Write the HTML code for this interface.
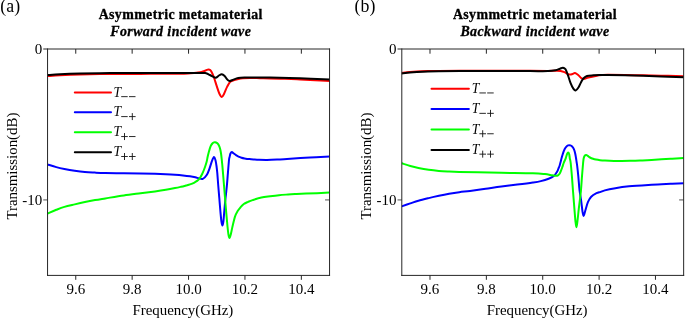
<!DOCTYPE html>
<html><head><meta charset="utf-8"><title>Asymmetric metamaterial transmission</title>
<style>html,body{margin:0;padding:0;background:#fff}body{width:685px;height:318px;overflow:hidden;font-family:"Liberation Serif",serif}svg{display:block;will-change:transform}</style></head>
<body>
<svg width="685" height="318" viewBox="0 0 685 318" font-family="'Liberation Serif', serif" fill="#000">
<rect width="685" height="318" fill="#fff"/>
<clipPath id="c47"><rect x="47.55" y="49.00" width="282.00" height="226.40"/></clipPath>
<g clip-path="url(#c47)" fill="none" stroke-width="2.00" stroke-linejoin="round" stroke-linecap="round">
<path d="M47.50 76.10C49.58 75.95 54.58 75.48 60.00 75.20C65.42 74.92 71.67 74.60 80.00 74.40C88.33 74.20 100.00 74.08 110.00 74.00C120.00 73.92 130.00 73.93 140.00 73.90C150.00 73.87 163.33 73.83 170.00 73.80C176.67 73.77 177.00 73.77 180.00 73.70C183.00 73.63 185.67 73.52 188.00 73.40C190.33 73.28 192.33 73.13 194.00 73.00C195.67 72.87 196.75 72.77 198.00 72.60C199.25 72.43 200.42 72.27 201.50 72.00C202.58 71.73 203.62 71.35 204.50 71.00C205.38 70.65 206.12 70.15 206.80 69.90C207.48 69.65 208.03 69.47 208.60 69.50C209.17 69.53 209.70 69.68 210.20 70.10C210.70 70.52 211.00 70.85 211.60 72.00C212.20 73.15 212.92 74.57 213.80 77.00C214.68 79.43 215.98 83.85 216.90 86.60C217.82 89.35 218.48 91.77 219.30 93.50C220.12 95.23 220.98 97.00 221.80 97.00C222.62 97.00 223.30 95.23 224.20 93.50C225.10 91.77 226.18 88.57 227.20 86.60C228.22 84.63 229.13 82.78 230.30 81.70C231.47 80.62 232.83 80.57 234.20 80.10C235.57 79.63 237.05 79.20 238.50 78.90C239.95 78.60 240.98 78.45 242.90 78.30C244.82 78.15 247.15 78.02 250.00 78.00C252.85 77.98 256.67 78.13 260.00 78.20C263.33 78.27 265.83 78.30 270.00 78.40C274.17 78.50 280.00 78.62 285.00 78.80C290.00 78.97 295.00 79.22 300.00 79.45C305.00 79.68 310.03 79.89 315.00 80.15C319.97 80.41 327.33 80.86 329.80 81.00" stroke="#ff0000"/>
<path d="M47.50 164.50C48.97 164.93 53.48 166.37 56.30 167.10C59.12 167.83 61.33 168.30 64.40 168.90C67.47 169.50 71.28 170.18 74.70 170.70C78.12 171.22 81.50 171.68 84.90 172.00C88.30 172.32 91.70 172.43 95.10 172.60C98.50 172.77 100.52 172.88 105.30 173.00C110.08 173.12 117.92 173.22 123.80 173.30C129.68 173.38 135.40 173.42 140.60 173.50C145.80 173.58 150.80 173.68 155.00 173.80C159.20 173.92 162.47 174.05 165.80 174.20C169.13 174.35 172.13 174.50 175.00 174.70C177.87 174.90 180.50 175.13 183.00 175.40C185.50 175.67 187.95 175.98 190.00 176.30C192.05 176.62 193.83 176.97 195.30 177.30C196.77 177.63 197.55 178.03 198.80 178.30C200.05 178.57 201.48 179.45 202.80 178.90C204.12 178.35 205.60 176.68 206.70 175.00C207.80 173.32 208.52 171.15 209.40 168.80C210.28 166.45 211.22 162.85 212.00 160.90C212.78 158.95 213.52 157.22 214.10 157.10C214.68 156.98 215.10 158.72 215.50 160.20C215.90 161.68 216.20 163.83 216.50 166.00C216.80 168.17 217.02 170.03 217.30 173.20C217.58 176.37 217.87 180.87 218.20 185.00C218.53 189.13 218.93 193.58 219.30 198.00C219.67 202.42 220.05 207.62 220.40 211.50C220.75 215.38 221.07 218.98 221.40 221.30C221.73 223.62 222.07 225.40 222.40 225.40C222.73 225.40 223.07 223.87 223.40 221.30C223.73 218.73 224.08 213.55 224.40 210.00C224.72 206.45 224.90 203.92 225.30 200.00C225.70 196.08 226.37 190.97 226.80 186.50C227.23 182.03 227.53 177.62 227.90 173.20C228.27 168.78 228.72 162.70 229.00 160.00C229.28 157.30 229.35 158.08 229.60 157.00C229.85 155.92 230.12 154.32 230.50 153.50C230.88 152.68 231.40 152.13 231.90 152.10C232.40 152.07 232.82 152.78 233.50 153.30C234.18 153.82 235.17 154.65 236.00 155.20C236.83 155.75 237.58 156.18 238.50 156.60C239.42 157.02 240.48 157.40 241.50 157.70C242.52 158.00 243.28 158.17 244.60 158.40C245.92 158.63 247.83 158.92 249.40 159.10C250.97 159.28 252.40 159.38 254.00 159.50C255.60 159.62 256.83 159.73 259.00 159.80C261.17 159.88 264.00 159.98 267.00 159.95C270.00 159.92 273.67 159.76 277.00 159.60C280.33 159.44 281.50 159.35 287.00 159.00C292.50 158.65 302.87 157.93 310.00 157.50C317.13 157.07 326.50 156.58 329.80 156.40" stroke="#0000ff"/>
<path d="M47.50 213.50C48.97 212.88 53.48 210.90 56.30 209.80C59.12 208.70 61.33 207.80 64.40 206.90C67.47 206.00 71.28 205.20 74.70 204.40C78.12 203.60 81.50 202.82 84.90 202.10C88.30 201.38 91.70 200.72 95.10 200.10C98.50 199.48 100.52 199.18 105.30 198.40C110.08 197.62 117.92 196.27 123.80 195.40C129.68 194.53 135.40 193.87 140.60 193.20C145.80 192.53 150.80 191.97 155.00 191.40C159.20 190.83 162.47 190.35 165.80 189.80C169.13 189.25 172.48 188.60 175.00 188.10C177.52 187.60 179.07 187.23 180.90 186.80C182.73 186.37 184.48 185.90 186.00 185.50C187.52 185.10 188.67 184.85 190.00 184.40C191.33 183.95 192.83 183.38 194.00 182.80C195.17 182.22 196.08 181.60 197.00 180.90C197.92 180.20 198.62 179.78 199.50 178.60C200.38 177.42 201.38 175.73 202.30 173.80C203.22 171.87 204.27 169.05 205.00 167.00C205.73 164.95 206.27 163.17 206.70 161.50C207.13 159.83 207.27 158.48 207.60 157.00C207.93 155.52 208.33 154.00 208.70 152.60C209.07 151.20 209.40 149.82 209.80 148.60C210.20 147.38 210.63 146.20 211.10 145.30C211.57 144.40 212.12 143.70 212.60 143.20C213.08 142.70 213.60 142.47 214.00 142.30C214.40 142.13 214.53 142.10 215.00 142.20C215.47 142.30 216.25 142.53 216.80 142.90C217.35 143.27 217.85 143.75 218.30 144.40C218.75 145.05 219.15 145.87 219.50 146.80C219.85 147.73 220.13 148.80 220.40 150.00C220.67 151.20 220.88 152.50 221.10 154.00C221.32 155.50 221.50 157.17 221.70 159.00C221.90 160.83 222.08 162.63 222.30 165.00C222.52 167.37 222.70 169.62 223.00 173.20C223.30 176.78 223.58 180.20 224.10 186.50C224.62 192.80 225.53 204.33 226.10 211.00C226.67 217.67 227.10 222.53 227.50 226.50C227.90 230.47 228.17 232.88 228.50 234.80C228.83 236.72 229.13 238.00 229.50 238.00C229.87 238.00 230.20 236.72 230.70 234.80C231.20 232.88 231.78 229.53 232.50 226.50C233.22 223.47 234.17 219.13 235.00 216.60C235.83 214.07 236.58 212.85 237.50 211.30C238.42 209.75 239.45 208.52 240.50 207.30C241.55 206.08 242.55 204.90 243.80 204.00C245.05 203.10 246.53 202.55 248.00 201.90C249.47 201.25 250.37 200.83 252.60 200.10C254.83 199.37 258.47 198.15 261.40 197.50C264.33 196.85 267.27 196.59 270.20 196.20C273.13 195.81 276.03 195.43 279.00 195.15C281.97 194.87 285.33 194.68 288.00 194.50C290.67 194.32 292.00 194.25 295.00 194.10C298.00 193.95 300.25 193.85 306.00 193.60C311.75 193.35 325.58 192.77 329.50 192.60" stroke="#00ff00"/>
<path d="M47.50 75.10C49.58 74.95 54.58 74.47 60.00 74.20C65.42 73.93 71.67 73.68 80.00 73.50C88.33 73.32 100.00 73.18 110.00 73.10C120.00 73.02 128.33 73.02 140.00 73.00C151.67 72.98 170.72 73.02 180.00 73.00C189.28 72.98 191.50 72.88 195.70 72.90C199.90 72.92 202.83 72.75 205.20 73.10C207.57 73.45 208.20 74.22 209.90 75.00C211.60 75.78 213.97 77.67 215.40 77.80C216.83 77.93 217.43 76.40 218.50 75.80C219.57 75.20 220.75 74.13 221.80 74.20C222.85 74.27 223.90 75.33 224.80 76.20C225.70 77.07 226.42 78.60 227.20 79.40C227.98 80.20 228.45 80.97 229.50 81.00C230.55 81.03 232.05 80.08 233.50 79.60C234.95 79.12 236.12 78.45 238.20 78.10C240.28 77.75 244.03 77.62 246.00 77.50C247.97 77.38 247.67 77.42 250.00 77.40C252.33 77.38 256.67 77.38 260.00 77.40C263.33 77.42 263.33 77.35 270.00 77.50C276.67 77.65 290.03 77.97 300.00 78.30C309.97 78.63 324.83 79.30 329.80 79.50" stroke="#000000"/>
</g>
<g stroke="#262626" stroke-width="1" fill="none">
<path d="M47.55 48.50 V275.90 M329.55 48.50 V275.90 M47.05 275.40 H330.05 M43.25 49.00 H330.05"/>
<path d="M75.75 275.40 v4.4M75.75 49.00 v4.7"/>
<path d="M132.15 275.40 v4.4M132.15 49.00 v4.7"/>
<path d="M188.55 275.40 v4.4M188.55 49.00 v4.7"/>
<path d="M244.95 275.40 v4.4M244.95 49.00 v4.7"/>
<path d="M301.35 275.40 v4.4M301.35 49.00 v4.7"/>
<path d="M47.55 199.93 h-4.3M329.55 199.93 h-4.5" stroke-width="0.8"/>
</g>
<g font-size="15" text-anchor="middle">
<text x="75.75" y="293.6">9.6</text>
<text x="132.15" y="293.6">9.8</text>
<text x="188.55" y="293.6">10.0</text>
<text x="244.95" y="293.6">10.2</text>
<text x="301.35" y="293.6">10.4</text>
</g>
<g font-size="15" text-anchor="end">
<text x="42.35" y="53.9">0</text>
<text x="42.35" y="204.6">-10</text>
</g>
<text font-size="14.9" text-anchor="middle" x="182.85" y="314.8">Frequency(GHz)</text>
<text font-size="14.9" text-anchor="middle" transform="translate(17.05 166.1) rotate(-90)">Transmission(dB)</text>
<text font-size="13.9" letter-spacing="0.38" stroke="#000" stroke-width="0.3" font-weight="bold" text-anchor="middle" x="180.75" y="18.6">Asymmetric metamaterial</text>
<text font-size="13.9" letter-spacing="0.43" stroke="#000" stroke-width="0.3" font-weight="bold" font-style="italic" text-anchor="middle" x="180.75" y="35.9">Forward incident wave</text>
<text font-size="17.8" x="0.35" y="12.1">(a)</text>
<path d="M74.80 92.40 H111.00" stroke="#ff0000" stroke-width="2.0" stroke-linecap="round"/>
<text font-style="italic" font-size="13.6" x="113.60" y="96.50">T</text>
<path d="M121.20 96.65 h6.5M129.00 96.65 h6.5" stroke="#111" stroke-width="0.9" fill="none"/>
<path d="M74.80 112.35 H111.00" stroke="#0000ff" stroke-width="2.0" stroke-linecap="round"/>
<text font-style="italic" font-size="13.6" x="113.60" y="116.45">T</text>
<path d="M121.20 116.60 h6.5M129.00 116.60 h6.6M132.30 113.10 v7.0" stroke="#111" stroke-width="0.9" fill="none"/>
<path d="M74.80 132.30 H111.00" stroke="#00ff00" stroke-width="2.0" stroke-linecap="round"/>
<text font-style="italic" font-size="13.6" x="113.60" y="136.40">T</text>
<path d="M121.20 136.55 h6.6M124.50 133.05 v7.0M129.00 136.55 h6.5" stroke="#111" stroke-width="0.9" fill="none"/>
<path d="M74.80 152.25 H111.00" stroke="#000000" stroke-width="2.0" stroke-linecap="round"/>
<text font-style="italic" font-size="13.6" x="113.60" y="156.35">T</text>
<path d="M121.20 156.50 h6.6M124.50 153.00 v7.0M129.00 156.50 h6.6M132.30 153.00 v7.0" stroke="#111" stroke-width="0.9" fill="none"/>
<clipPath id="c401"><rect x="401.80" y="49.00" width="281.85" height="226.40"/></clipPath>
<g clip-path="url(#c401)" fill="none" stroke-width="2.00" stroke-linejoin="round" stroke-linecap="round">
<path d="M401.60 72.90C403.00 72.75 407.45 72.23 410.00 72.00C412.55 71.77 413.90 71.65 416.90 71.50C419.90 71.35 424.35 71.20 428.00 71.10C431.65 71.00 433.47 70.95 438.80 70.90C444.13 70.85 450.63 70.82 460.00 70.80C469.37 70.78 483.33 70.79 495.00 70.80C506.67 70.81 521.17 70.83 530.00 70.85C538.83 70.87 543.67 70.91 548.00 70.90C552.33 70.89 553.90 70.78 556.00 70.80C558.10 70.82 559.20 70.78 560.60 71.00C562.00 71.22 563.33 71.67 564.40 72.10C565.47 72.53 566.07 73.18 567.00 73.60C567.93 74.02 569.08 74.53 570.00 74.60C570.92 74.67 571.67 74.25 572.50 74.00C573.33 73.75 574.05 72.93 575.00 73.10C575.95 73.27 577.15 74.17 578.20 75.00C579.25 75.83 580.37 77.42 581.30 78.10C582.23 78.78 582.63 79.18 583.80 79.10C584.97 79.02 586.30 78.13 588.30 77.60C590.30 77.07 593.52 76.32 595.80 75.90C598.08 75.48 599.97 75.28 602.00 75.10C604.03 74.92 602.57 74.79 608.00 74.80C613.43 74.81 625.77 75.00 634.60 75.15C643.43 75.30 652.78 75.53 661.00 75.70C669.22 75.88 680.08 76.12 683.90 76.20" stroke="#ff0000"/>
<path d="M401.70 206.40C403.13 205.90 407.52 204.35 410.30 203.40C413.08 202.45 415.33 201.58 418.40 200.70C421.47 199.82 425.28 198.92 428.70 198.10C432.12 197.28 435.50 196.52 438.90 195.80C442.30 195.08 445.70 194.40 449.10 193.80C452.50 193.20 455.82 192.68 459.30 192.20C462.78 191.72 465.60 191.48 470.00 190.90C474.40 190.32 480.47 189.43 485.70 188.70C490.93 187.97 496.15 187.18 501.40 186.50C506.65 185.82 511.95 185.27 517.20 184.60C522.45 183.93 528.97 183.08 532.90 182.50C536.83 181.92 538.18 181.73 540.80 181.10C543.42 180.47 546.43 179.57 548.60 178.70C550.77 177.83 552.35 177.13 553.80 175.90C555.25 174.67 556.52 172.57 557.30 171.30C558.08 170.03 558.13 169.18 558.50 168.30C558.87 167.42 559.15 167.05 559.50 166.00C559.85 164.95 560.25 163.33 560.60 162.00C560.95 160.67 561.25 159.28 561.60 158.00C561.95 156.72 562.32 155.50 562.70 154.30C563.08 153.10 563.47 151.85 563.90 150.80C564.33 149.75 564.82 148.77 565.30 148.00C565.78 147.23 566.32 146.63 566.80 146.20C567.28 145.77 567.80 145.57 568.20 145.40C568.60 145.23 568.83 145.20 569.20 145.20C569.57 145.20 569.95 145.22 570.40 145.40C570.85 145.58 571.42 145.87 571.90 146.30C572.38 146.73 572.88 147.30 573.30 148.00C573.72 148.70 574.07 149.50 574.40 150.50C574.73 151.50 575.03 152.75 575.30 154.00C575.57 155.25 575.78 156.67 576.00 158.00C576.22 159.33 576.40 160.67 576.60 162.00C576.80 163.33 576.92 163.63 577.20 166.00C577.48 168.37 577.92 172.20 578.30 176.20C578.68 180.20 579.00 185.73 579.50 190.00C580.00 194.27 580.80 198.20 581.30 201.80C581.80 205.40 582.12 209.23 582.50 211.60C582.88 213.97 583.18 215.97 583.60 216.00C584.02 216.03 584.28 214.10 585.00 211.80C585.72 209.50 586.87 204.72 587.90 202.20C588.93 199.68 589.77 198.20 591.20 196.70C592.63 195.20 594.92 194.00 596.50 193.20C598.08 192.40 599.32 192.37 600.70 191.90C602.08 191.43 602.60 190.98 604.80 190.40C607.00 189.82 609.87 189.08 613.90 188.40C617.93 187.72 622.72 186.91 629.00 186.30C635.28 185.69 644.68 185.17 651.60 184.75C658.52 184.33 665.12 184.06 670.50 183.80C675.88 183.54 681.67 183.30 683.90 183.20" stroke="#0000ff"/>
<path d="M402.00 163.30C403.38 163.75 407.57 165.22 410.30 166.00C413.03 166.78 415.33 167.37 418.40 168.00C421.47 168.63 425.28 169.32 428.70 169.80C432.12 170.28 435.50 170.62 438.90 170.90C442.30 171.18 445.70 171.33 449.10 171.50C452.50 171.67 454.52 171.77 459.30 171.90C464.08 172.03 470.78 172.15 477.80 172.30C484.82 172.45 492.22 172.63 501.40 172.80C510.58 172.97 525.63 173.08 532.90 173.30C540.17 173.52 542.10 173.83 545.00 174.10C547.90 174.37 548.88 174.67 550.30 174.90C551.72 175.13 552.55 175.35 553.50 175.50C554.45 175.65 555.25 175.83 556.00 175.80C556.75 175.77 557.40 175.65 558.00 175.30C558.60 174.95 559.10 174.47 559.60 173.70C560.10 172.93 560.53 171.83 561.00 170.70C561.47 169.57 561.95 168.18 562.40 166.90C562.85 165.62 563.15 164.43 563.70 163.00C564.25 161.57 565.15 159.77 565.70 158.30C566.25 156.83 566.60 155.17 567.00 154.20C567.40 153.23 567.73 152.50 568.10 152.50C568.47 152.50 568.92 153.23 569.20 154.20C569.48 155.17 569.55 156.83 569.80 158.30C570.05 159.77 570.35 160.02 570.70 163.00C571.05 165.98 571.52 171.53 571.90 176.20C572.28 180.87 572.58 185.58 573.00 191.00C573.42 196.42 573.98 203.60 574.40 208.70C574.82 213.80 575.17 218.50 575.50 221.60C575.83 224.70 576.08 227.30 576.40 227.30C576.72 227.30 577.00 224.70 577.40 221.60C577.80 218.50 578.22 213.80 578.80 208.70C579.38 203.60 580.37 196.42 580.90 191.00C581.43 185.58 581.63 180.87 582.00 176.20C582.37 171.53 582.82 165.98 583.10 163.00C583.38 160.02 583.42 159.53 583.70 158.30C583.98 157.07 584.38 156.17 584.80 155.60C585.22 155.03 585.70 154.85 586.20 154.90C586.70 154.95 587.17 155.47 587.80 155.90C588.43 156.33 589.13 157.02 590.00 157.50C590.87 157.98 592.00 158.45 593.00 158.80C594.00 159.15 594.83 159.37 596.00 159.60C597.17 159.83 598.50 160.03 600.00 160.20C601.50 160.37 602.68 160.47 605.00 160.60C607.32 160.72 611.07 160.88 613.90 160.95C616.73 161.02 619.32 161.02 622.00 161.00C624.68 160.98 627.00 160.93 630.00 160.85C633.00 160.77 636.40 160.66 640.00 160.50C643.60 160.34 646.52 160.18 651.60 159.90C656.68 159.62 665.12 159.12 670.50 158.80C675.88 158.48 681.67 158.13 683.90 158.00" stroke="#00ff00"/>
<path d="M401.60 73.40C403.00 73.25 407.45 72.73 410.00 72.50C412.55 72.27 413.90 72.17 416.90 72.00C419.90 71.83 424.35 71.62 428.00 71.50C431.65 71.38 433.47 71.32 438.80 71.25C444.13 71.18 450.63 71.13 460.00 71.10C469.37 71.07 483.33 71.05 495.00 71.05C506.67 71.05 521.17 71.09 530.00 71.10C538.83 71.11 543.75 71.23 548.00 71.10C552.25 70.97 553.50 70.70 555.50 70.30C557.50 69.90 558.78 69.12 560.00 68.70C561.22 68.28 561.97 67.78 562.80 67.80C563.63 67.82 564.43 68.33 565.00 68.80C565.57 69.27 565.68 69.47 566.20 70.60C566.72 71.73 567.37 73.50 568.10 75.60C568.83 77.70 569.75 81.07 570.60 83.20C571.45 85.33 572.37 87.18 573.20 88.40C574.03 89.62 574.70 90.70 575.60 90.50C576.50 90.30 577.67 88.62 578.60 87.20C579.53 85.78 580.37 83.48 581.20 82.00C582.03 80.52 582.63 79.30 583.60 78.30C584.57 77.30 585.38 76.50 587.00 76.00C588.62 75.50 591.13 75.46 593.30 75.30C595.47 75.14 597.55 75.10 600.00 75.05C602.45 75.00 602.23 74.91 608.00 75.00C613.77 75.09 625.77 75.35 634.60 75.60C643.43 75.85 652.78 76.22 661.00 76.50C669.22 76.78 680.08 77.17 683.90 77.30" stroke="#000000"/>
</g>
<g stroke="#262626" stroke-width="1" fill="none">
<path d="M401.80 48.50 V275.90 M683.65 48.50 V275.90 M401.30 275.40 H684.15 M397.50 49.00 H684.15"/>
<path d="M429.99 275.40 v4.4M429.99 49.00 v4.7"/>
<path d="M486.36 275.40 v4.4M486.36 49.00 v4.7"/>
<path d="M542.73 275.40 v4.4M542.73 49.00 v4.7"/>
<path d="M599.10 275.40 v4.4M599.10 49.00 v4.7"/>
<path d="M655.46 275.40 v4.4M655.46 49.00 v4.7"/>
<path d="M401.80 199.93 h-4.3M683.65 199.93 h-4.5" stroke-width="0.8"/>
</g>
<g font-size="15" text-anchor="middle">
<text x="429.99" y="293.6">9.6</text>
<text x="486.36" y="293.6">9.8</text>
<text x="542.73" y="293.6">10.0</text>
<text x="599.10" y="293.6">10.2</text>
<text x="655.46" y="293.6">10.4</text>
</g>
<g font-size="15" text-anchor="end">
<text x="396.60" y="53.9">0</text>
<text x="396.60" y="204.6">-10</text>
</g>
<text font-size="14.9" text-anchor="middle" x="537.10" y="314.8">Frequency(GHz)</text>
<text font-size="14.9" text-anchor="middle" transform="translate(371.30 166.1) rotate(-90)">Transmission(dB)</text>
<text font-size="13.9" letter-spacing="0.38" stroke="#000" stroke-width="0.3" font-weight="bold" text-anchor="middle" x="535.00" y="18.6">Asymmetric metamaterial</text>
<text font-size="13.9" letter-spacing="0.43" stroke="#000" stroke-width="0.3" font-weight="bold" font-style="italic" text-anchor="middle" x="535.00" y="35.9">Backward incident wave</text>
<text font-size="17.8" x="354.60" y="12.1">(b)</text>
<path d="M431.50 88.70 H468.90" stroke="#ff0000" stroke-width="2.0" stroke-linecap="round"/>
<text font-style="italic" font-size="13.6" x="471.80" y="92.80">T</text>
<path d="M479.40 92.95 h6.5M487.20 92.95 h6.5" stroke="#111" stroke-width="0.9" fill="none"/>
<path d="M431.50 109.10 H468.90" stroke="#0000ff" stroke-width="2.0" stroke-linecap="round"/>
<text font-style="italic" font-size="13.6" x="471.80" y="113.20">T</text>
<path d="M479.40 113.35 h6.5M487.20 113.35 h6.6M490.50 109.85 v7.0" stroke="#111" stroke-width="0.9" fill="none"/>
<path d="M431.50 129.50 H468.90" stroke="#00ff00" stroke-width="2.0" stroke-linecap="round"/>
<text font-style="italic" font-size="13.6" x="471.80" y="133.60">T</text>
<path d="M479.40 133.75 h6.6M482.70 130.25 v7.0M487.20 133.75 h6.5" stroke="#111" stroke-width="0.9" fill="none"/>
<path d="M431.50 149.90 H468.90" stroke="#000000" stroke-width="2.0" stroke-linecap="round"/>
<text font-style="italic" font-size="13.6" x="471.80" y="154.00">T</text>
<path d="M479.40 154.15 h6.6M482.70 150.65 v7.0M487.20 154.15 h6.6M490.50 150.65 v7.0" stroke="#111" stroke-width="0.9" fill="none"/>
</svg>
</body></html>
